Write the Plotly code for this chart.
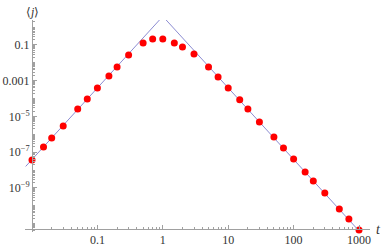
import plotly.graph_objects as go

# data
t_vals = [0.01, 0.015, 0.02, 0.03, 0.05, 0.07, 0.1, 0.15, 0.2, 0.3, 0.5, 0.7,
          1, 1.5, 2, 3, 5, 7, 10, 15, 20, 30, 50, 70, 100, 150, 200, 300, 500, 700, 1000]
log_j = [-7.43, -6.71, -6.20, -5.53, -4.58, -4.02, -3.41, -2.74, -2.23, -1.56, -0.89, -0.67,
         -0.67, -0.89, -1.11, -1.50, -2.23, -2.79, -3.41, -4.07, -4.58, -5.31, -6.15, -6.76,
         -7.38, -8.11, -8.61, -9.28, -10.18, -10.74, -11.35]
j_vals = [10 ** v for v in log_j]

# asymptote lines (endpoints)
left_t = [0.008, 1.0]
left_j = [1.6e-8, 4.0]
right_t = [1.0, 1100.0]
right_j = [4.0, 2.7e-12]

x_tickvals = [0.1, 1, 10, 100, 1000]
x_ticktext = ["0.1", "1", "10", "100", "1000"]
y_tickvals = [0.1, 0.001, 1e-5, 1e-7, 1e-9]
y_ticktext = ["0.1", "0.001", "10<sup>−5</sup>", "10<sup>−7</sup>", "10<sup>−9</sup>"]

x_minor = [m * 10.0 ** k for k in range(-2, 4) for m in range(2, 10)]
y_minor = [m * 10.0 ** k for k in range(-12, 1) for m in range(1, 10)]

line_col = "rgb(140,140,210)"
axis_col = "#a0a0a0"
serif = "Liberation Serif, Times New Roman, Times, serif"
font = dict(family=serif, size=12, color="#333333")

fig = go.Figure()
fig.add_trace(go.Scatter(x=left_t, y=left_j, mode="lines",
                         line=dict(color=line_col, width=1), hoverinfo="skip"))
fig.add_trace(go.Scatter(x=right_t, y=right_j, mode="lines",
                         line=dict(color=line_col, width=1), hoverinfo="skip"))
fig.add_trace(go.Scatter(x=t_vals, y=j_vals, mode="markers", cliponaxis=False,
                         marker=dict(color="#ff0000", size=7, line=dict(width=0))))

fig.update_layout(
    width=382, height=250,
    margin=dict(l=25, r=12, t=20, b=18, autoexpand=False),
    paper_bgcolor="white", plot_bgcolor="white",
    showlegend=False,
    font=font,
    xaxis=dict(type="log", range=[-2.107, 3.168], anchor="free", position=0.01415,
               automargin=False,
               showgrid=False, zeroline=False, showline=True, linecolor=axis_col, linewidth=1,
               tickvals=x_tickvals, ticktext=x_ticktext, ticks="inside", ticklen=4,
               tickcolor=axis_col, tickfont=font,
               minor=dict(tickvals=x_minor, ticks="inside", ticklen=2, tickcolor=axis_col,
                          showgrid=False)),
    yaxis=dict(type="log", range=[-11.463, 0.397], anchor="free", position=0.0203,
               automargin=False,
               showgrid=False, zeroline=False, showline=True, linecolor=axis_col, linewidth=1,
               tickvals=y_tickvals, ticktext=y_ticktext, ticks="inside", ticklen=4,
               tickcolor=axis_col, tickfont=font,
               minor=dict(tickvals=y_minor, ticks="inside", ticklen=2, tickcolor=axis_col,
                          showgrid=False)),
    annotations=[
        dict(text="<i>t</i>", xref="paper", yref="paper", x=1, y=0.01415,
             xanchor="left", yanchor="middle", xshift=4, showarrow=False,
             font=dict(family=serif, size=14, color="#333333")),
        dict(text="⟨<i>j</i>⟩", xref="paper", yref="paper", x=0.0203, y=1,
             xanchor="center", yanchor="middle", yshift=8, showarrow=False,
             font=dict(family=serif, size=12, color="#333333")),
    ],
)

fig.write_html("out.html", config={"displayModeBar": False},
               post_script="document.body.style.margin='0';document.body.style.padding='0';")
